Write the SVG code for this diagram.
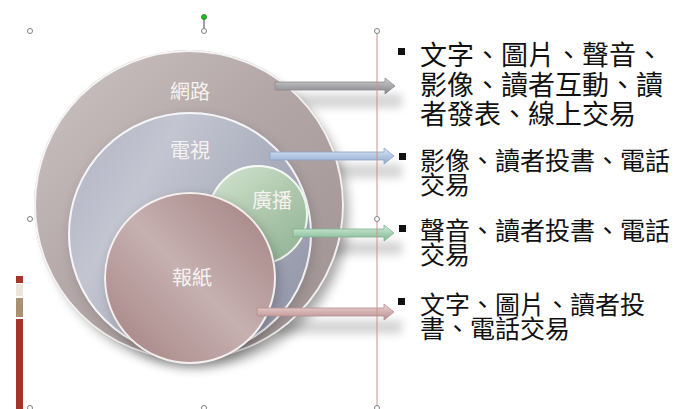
<svg xmlns="http://www.w3.org/2000/svg" width="675" height="409" viewBox="0 0 675 409">
<style>
.lbl{font-family:"Noto Sans CJK TC","Noto Sans CJK SC",sans-serif;font-size:20px;fill:#f6f2f2;text-anchor:middle}
.txt{font-family:"Noto Sans CJK TC","Noto Sans CJK SC",sans-serif;fill:#111}
.t1{font-size:27px}
.t2{font-size:25px}
.rim{fill:none;stroke:#ffffff;stroke-opacity:0.85;stroke-width:2}
.handle{fill:#ffffff;stroke:#808080;stroke-width:1}
.arr{stroke-width:0.8}
</style>
<defs>
<filter id="shadow" x="-20%" y="-20%" width="150%" height="150%">
<feGaussianBlur stdDeviation="6"/>
</filter>
<filter id="soft" x="-20%" y="-100%" width="140%" height="300%">
<feGaussianBlur stdDeviation="4"/>
</filter>
<linearGradient id="gNet" x1="0" y1="0" x2="1" y2="1">
<stop offset="0" stop-color="#cec4c4"/>
<stop offset="0.45" stop-color="#b3a7a7"/>
<stop offset="1" stop-color="#9d9090"/>
</linearGradient>
<linearGradient id="gTv" x1="0" y1="0" x2="1" y2="0.6">
<stop offset="0" stop-color="#aeb1c0"/>
<stop offset="0.35" stop-color="#c3c5d1"/>
<stop offset="1" stop-color="#979bac"/>
</linearGradient>
<linearGradient id="gRadio" x1="0" y1="0" x2="0.8" y2="1">
<stop offset="0" stop-color="#d6e6d2"/>
<stop offset="0.5" stop-color="#b2cbb0"/>
<stop offset="1" stop-color="#93b497"/>
</linearGradient>
<linearGradient id="gPaper" x1="0" y1="1" x2="1" y2="0">
<stop offset="0" stop-color="#a37f80"/>
<stop offset="0.5" stop-color="#c6b0b0"/>
<stop offset="1" stop-color="#a07e7f"/>
</linearGradient>
<linearGradient id="aGray" x1="0" y1="0" x2="0" y2="1">
<stop offset="0" stop-color="#d2d2d4"/>
<stop offset="0.5" stop-color="#a8a8ac"/>
<stop offset="1" stop-color="#86868a"/>
</linearGradient>
<linearGradient id="aBlue" x1="0" y1="0" x2="0" y2="1">
<stop offset="0" stop-color="#dbe6f4"/>
<stop offset="0.5" stop-color="#b4c8e2"/>
<stop offset="1" stop-color="#92a9cc"/>
</linearGradient>
<linearGradient id="aGreen" x1="0" y1="0" x2="0" y2="1">
<stop offset="0" stop-color="#d6eedd"/>
<stop offset="0.5" stop-color="#a8d2b6"/>
<stop offset="1" stop-color="#84b494"/>
</linearGradient>
<linearGradient id="aPink" x1="0" y1="0" x2="0" y2="1">
<stop offset="0" stop-color="#eed8d8"/>
<stop offset="0.5" stop-color="#d4b0b0"/>
<stop offset="1" stop-color="#b48e8e"/>
</linearGradient>
</defs>

<rect width="675" height="409" fill="#ffffff"/>

<!-- left decorative bar -->
<g id="sidebar">
<rect x="16" y="276" width="7" height="7" fill="#a83228"/>
<rect x="16" y="284" width="7" height="12" fill="#ebe5dc"/>
<rect x="16" y="298" width="7" height="19" fill="#a89070"/>
<rect x="16" y="319" width="7" height="90" fill="#a83228"/>
</g>

<!-- arrow shadows -->
<g id="arrow-shadows" fill="#000000" opacity="0.16" filter="url(#soft)">
<rect x="290" y="94" width="112" height="14"/>
<rect x="285" y="164" width="117" height="14"/>
<rect x="305" y="241" width="97" height="14"/>
<rect x="275" y="320" width="127" height="14"/>
</g>

<!-- circle shadow -->
<circle cx="196" cy="214" r="152" fill="#000000" opacity="0.35" filter="url(#shadow)"/>

<g id="node-net">
<circle cx="189" cy="205" r="155" fill="url(#gNet)"/>
<circle cx="189" cy="205" r="154" class="rim"/>
<text x="190" y="99" class="lbl">網路</text>
</g>

<g id="node-tv">
<circle cx="192" cy="238" r="122" fill="#000" opacity="0.15" filter="url(#shadow)"/>
<circle cx="190" cy="234" r="122" fill="url(#gTv)"/>
<circle cx="190" cy="234" r="121" class="rim" stroke="#e8ecf6"/>
<text x="190" y="158" class="lbl">電視</text>
</g>

<g id="node-radio">
<circle cx="258" cy="215" r="50" fill="url(#gRadio)"/>
<circle cx="258" cy="215" r="49" class="rim"/>
<text x="272" y="208" class="lbl">廣播</text>
</g>

<g id="node-paper">
<circle cx="193" cy="282" r="86" fill="#000" opacity="0.2" filter="url(#shadow)"/>
<circle cx="190" cy="278" r="86" fill="url(#gPaper)"/>
<circle cx="190" cy="278" r="85" class="rim"/>
<text x="192" y="285" class="lbl">報紙</text>
</g>

<g id="connectors">
<path class="arr" d="M275,82 H385 V78 L395,86 L385,94 V90 H275 Z" fill="url(#aGray)" stroke="#8a8a8e"/>
<path class="arr" d="M270,152 H384 V148 L394,156 L384,164 V160 H270 Z" fill="url(#aBlue)" stroke="#8ca2c6"/>
<path class="arr" d="M293,229 H384 V225 L394,233 L384,241 V237 H293 Z" fill="url(#aGreen)" stroke="#7eae8e"/>
<path class="arr" d="M257,308 H384 V304 L394,312 L384,320 V316 H257 Z" fill="url(#aPink)" stroke="#b48e8e"/>
</g>

<!-- selection frame / guide -->
<g id="guides">
<line x1="377" y1="31" x2="377" y2="409" stroke="#c8948c" stroke-width="1"/>
<line x1="204" y1="17" x2="204" y2="31" stroke="#404040" stroke-width="1"/>
<circle cx="204" cy="17" r="2.5" fill="#22c022" stroke="#108010" stroke-width="0.8"/>
<circle cx="30" cy="31" r="2.5" class="handle"/>
<circle cx="204" cy="31" r="2.5" class="handle"/>
<circle cx="377" cy="31" r="2.5" class="handle"/>
<circle cx="30" cy="219" r="2.5" class="handle"/>
<circle cx="377" cy="219" r="2.5" class="handle"/>
<circle cx="30" cy="408" r="2.5" class="handle"/>
<circle cx="204" cy="408" r="2.5" class="handle"/>
<circle cx="377" cy="408" r="2.5" class="handle"/>
</g>

<g id="text-net">
<rect x="398" y="48" width="7" height="7" fill="#111"/>
<text class="txt t1" x="420"><tspan x="420" y="65">文字、圖片、聲音、</tspan><tspan x="420" y="94.5">影像、讀者互動、讀</tspan><tspan x="420" y="124">者發表、線上交易</tspan></text>
</g>
<g id="text-tv">
<rect x="399" y="153" width="7" height="7" fill="#111"/>
<text class="txt t2"><tspan x="420" y="170">影像、讀者投書、電話</tspan><tspan x="420" y="194">交易</tspan></text>
</g>
<g id="text-radio">
<rect x="399" y="225" width="7" height="7" fill="#111"/>
<text class="txt t2"><tspan x="420" y="240">聲音、讀者投書、電話</tspan><tspan x="420" y="264">交易</tspan></text>
</g>
<g id="text-paper">
<rect x="398" y="298" width="7" height="7" fill="#111"/>
<text class="txt t2"><tspan x="420" y="313.5">文字、圖片、讀者投</tspan><tspan x="420" y="338">書、電話交易</tspan></text>
</g>
</svg>
